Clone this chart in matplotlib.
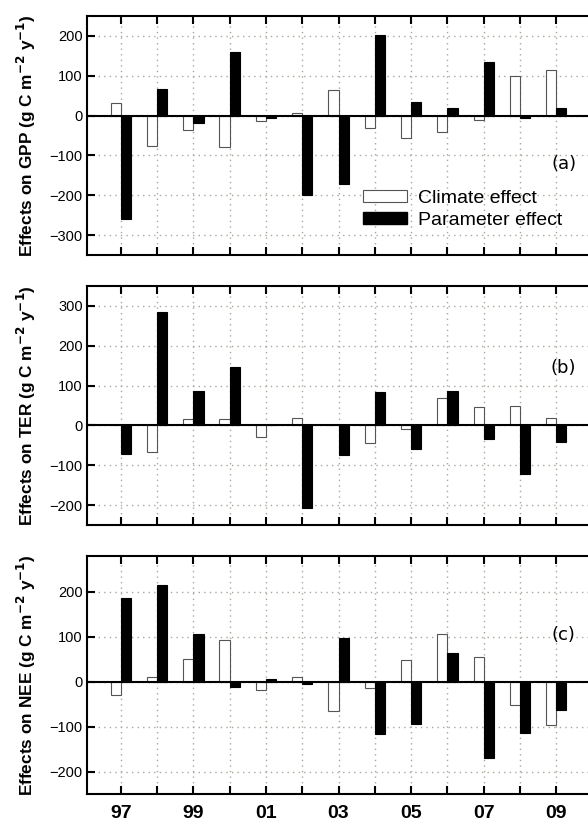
import matplotlib
matplotlib.use("Agg")
import matplotlib.pyplot as plt
import numpy as np
from matplotlib.patches import Patch

plt.rcParams['font.family'] = ['Liberation Sans', 'DejaVu Sans']

years = np.arange(1997, 2010)
year_labels = ['97', '99', '01', '03', '05', '07', '09']

gpp_climate = [31, -77, -36, -80, -13, 7, 65, -32, -57, -40, -11, 100, 114]
gpp_param = [-259, 67, -19, 159, -7, -200, -173, 202, 35, 20, 134, -5, 19]

ter_climate = [2, -66, 16, 16, -30, 19, 0, -44, -10, 69, 46, 48, 18]
ter_param = [-72, 285, 87, 146, 0, -207, -74, 85, -59, 86, -34, -121, -41]

nee_climate = [-30, 11, 51, 94, -18, 11, -65, -13, 49, 107, 56, -51, -96]
nee_param = [186, 216, 106, -11, 7, -5, 98, -116, -95, 65, -170, -114, -64]

panels = [
    ('GPP', gpp_climate, gpp_param, (-350, 250), [-300, -200, -100, 0, 100, 200], '(a)', -121),
    ('TER', ter_climate, ter_param, (-250, 350), [-200, -100, 0, 100, 200, 300], '(b)', 145),
    ('NEE', nee_climate, nee_param, (-250, 280), [-200, -100, 0, 100, 200], '(c)', 105),
]

W, H = 588, 826
fig = plt.figure(figsize=(W / 100, H / 100), dpi=100)

# pixel boxes (top, bottom) of each panel
boxes = [(16, 255), (286, 525), (556, 794)]
left_px = 87
x0, x1 = 1996.07, 2010.1
px_per_year = 36.3
right_px = 120.7 + (x1 - 1997) * px_per_year
ax_w = right_px - left_px

bw = 0.28
for i, (name, clim, par, ylim, yticks, tag, tag_y) in enumerate(panels):
    top, bot = boxes[i]
    ax = fig.add_axes([left_px / W, 1 - bot / H, ax_w / W, (bot - top) / H])
    ax.set_axisbelow(True)
    ax.bar(years - bw / 2, clim, width=bw, color='white', edgecolor='#555555', linewidth=0.8, zorder=3)
    ax.bar(years + bw / 2, par, width=bw, color='black', edgecolor='black', linewidth=0.8, zorder=3)
    ax.axhline(0, color='black', linewidth=1.5, zorder=4)
    ax.set_xlim(x0, x1)
    ax.set_ylim(*ylim)
    ax.set_yticks(yticks)
    ax.set_xticks(years)
    ax.grid(True, linestyle=(0, (1, 3)), color='#a8a89a', linewidth=1.0)
    ax.tick_params(axis='x', direction='in', top=True, bottom=True, length=6, width=1.5)
    ax.tick_params(axis='y', direction='in', length=6, width=1.5, labelsize=10.5, pad=3)
    for s in ax.spines.values():
        s.set_linewidth(1.5)
    if i == 2:
        ax.set_xticklabels([y if y in year_labels else '' for y in [f'{v % 100:02d}' for v in years]],
                           fontsize=14, fontweight='bold')
        ax.tick_params(axis='x', pad=8)
    else:
        ax.set_xticklabels([])
    ax.set_ylabel('Effects on %s (g C m$^{\\mathbf{-2}}$ y$^{\\mathbf{-1}}$)' % name,
                  fontsize=12.4, fontweight='bold')
    ax.yaxis.set_label_coords((38 - left_px) / ax_w, 0.5)
    ax.text(2009.2, tag_y, tag, fontsize=13, ha='center', va='center', family='DejaVu Sans')
    if i == 0:
        handles = [Patch(facecolor='white', edgecolor='#555555', linewidth=0.8, label='Climate effect'),
                   Patch(facecolor='black', edgecolor='black', label='Parameter effect')]
        ax.legend(handles=handles, loc='center left', bbox_to_anchor=(0.508, 0.192),
                  frameon=False, fontsize=14, handlelength=2.27, handleheight=0.62,
                  handletextpad=0.55, labelspacing=0.25)

fig.savefig('out.png', dpi=100)
